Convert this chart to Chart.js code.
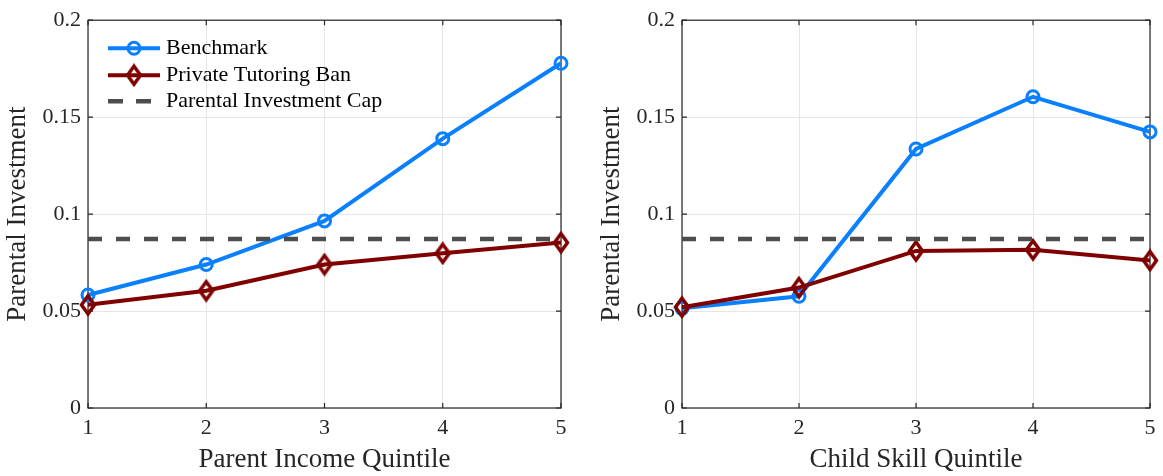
<!DOCTYPE html>
<html>
<head>
<meta charset="utf-8">
<script src="https://cdn.jsdelivr.net/npm/chart.js@4/dist/chart.umd.min.js"></script>
<style>
  html, body { margin: 0; padding: 0; background: #ffffff; }
  #wrap { position: relative; width: 1163px; height: 476px; overflow: hidden; }
  canvas { position: absolute; top: 0; }
  #incomeChart { left: 0; }
  #skillChart { left: 581px; }
</style>
</head>
<body>
<div id="wrap">
  <canvas id="incomeChart" width="581" height="476"></canvas>
  <canvas id="skillChart" width="582" height="476"></canvas>
</div>
<script>
// Quintile categories shared by both panels
const categories = ['1', '2', '3', '4', '5'];
const yTickLabels = ['0', '0.05', '0.1', '0.15', '0.2'];

// Panel 1: by parent income quintile
const incomeBenchmark = [0.0583, 0.0740, 0.0965, 0.1389, 0.1778];
const incomeTutoringBan = [0.0532, 0.0605, 0.0740, 0.0798, 0.0853];

// Panel 2: by child skill quintile
const skillBenchmark = [0.0514, 0.0576, 0.1336, 0.1605, 0.1424];
const skillTutoringBan = [0.0520, 0.0621, 0.0810, 0.0816, 0.0761];

// Horizontal cap level
const investmentCap = 0.0872;

const seriesNames = ['Benchmark', 'Private Tutoring Ban', 'Parental Investment Cap'];

const BLUE = '#0a80ff';
const DARKRED = '#800000';
const GRAY = '#4d4d4d';
const AXIS = '#262626';
const FONT = "'Liberation Serif', 'DejaVu Serif', serif";

// Diamond marker, slightly taller than wide
function diamondMarker(color) {
  const c = document.createElement('canvas');
  c.width = 18; c.height = 24;
  const g = c.getContext('2d');
  g.strokeStyle = color;
  g.lineWidth = 3.5;
  g.lineJoin = 'miter';
  g.beginPath();
  g.moveTo(9, 3); g.lineTo(15.5, 12); g.lineTo(9, 21); g.lineTo(2.5, 12);
  g.closePath();
  g.stroke();
  return c;
}
const diamond = diamondMarker(DARKRED);

// Box around the plot area with inward tick marks on all four sides
const framePlugin = {
  id: 'frame',
  beforeDatasetsDraw(chart) {
    const { ctx, chartArea: a, scales } = chart;
    ctx.save();
    ctx.strokeStyle = AXIS;
    ctx.lineWidth = 1.2;
    ctx.strokeRect(a.left, a.top, a.right - a.left, a.bottom - a.top);
    const tl = 5;
    ctx.beginPath();
    categories.forEach((c, i) => {
      const x = scales.x.getPixelForValue(i);
      ctx.moveTo(x, a.bottom); ctx.lineTo(x, a.bottom - tl);
      ctx.moveTo(x, a.top); ctx.lineTo(x, a.top + tl);
    });
    yTickLabels.forEach((t) => {
      const y = scales.y.getPixelForValue(parseFloat(t));
      ctx.moveTo(a.left, y); ctx.lineTo(a.left + tl, y);
      ctx.moveTo(a.right, y); ctx.lineTo(a.right - tl, y);
    });
    ctx.stroke();
    ctx.restore();
  }
};

// Legend drawn inside the upper-left corner of the plot area
const insetLegendPlugin = {
  id: 'insetLegend',
  afterDatasetsDraw(chart) {
    const { ctx, chartArea: a } = chart;
    const x0 = a.left + 20, x1 = a.left + 72, xt = a.left + 78;
    const rows = [a.top + 28, a.top + 55, a.top + 81];
    ctx.save();
    ctx.font = '22px ' + FONT;
    ctx.textBaseline = 'middle';
    ctx.fillStyle = '#000000';
    const ds = chart.data.datasets;
    // Benchmark
    ctx.strokeStyle = BLUE; ctx.lineWidth = 4; ctx.setLineDash([]);
    ctx.beginPath(); ctx.moveTo(x0, rows[0]); ctx.lineTo(x1, rows[0]); ctx.stroke();
    ctx.lineWidth = 3;
    ctx.beginPath(); ctx.arc((x0 + x1) / 2, rows[0], 6, 0, Math.PI * 2); ctx.stroke();
    ctx.fillText(ds[0].label, xt, rows[0]);
    // Tutoring ban
    ctx.strokeStyle = DARKRED; ctx.lineWidth = 4;
    ctx.beginPath(); ctx.moveTo(x0, rows[1]); ctx.lineTo(x1, rows[1]); ctx.stroke();
    ctx.drawImage(diamond, (x0 + x1) / 2 - diamond.width / 2, rows[1] - diamond.height / 2);
    ctx.fillText(ds[1].label, xt, rows[1]);
    // Cap
    ctx.strokeStyle = GRAY; ctx.lineWidth = 4.5; ctx.setLineDash([15, 13]);
    ctx.beginPath(); ctx.moveTo(x0, rows[2]); ctx.lineTo(x1, rows[2]); ctx.stroke();
    ctx.setLineDash([]);
    ctx.fillText(ds[2].label, xt, rows[2]);
    ctx.restore();
  }
};

function makeChart(canvasId, benchmark, tutoring, xTitle, opts) {
  const capSeries = categories.map(() => investmentCap);
  const plugins = [framePlugin];
  if (opts.legend) plugins.push(insetLegendPlugin);
  return new Chart(document.getElementById(canvasId), {
    type: 'line',
    data: {
      labels: categories,
      datasets: [
        {
          label: seriesNames[0], data: benchmark, order: 3, clip: false,
          borderColor: BLUE, borderWidth: 4, backgroundColor: 'rgba(0,0,0,0)',
          pointStyle: 'circle', pointRadius: 6, pointBorderWidth: 3,
          pointBorderColor: BLUE, pointBackgroundColor: 'rgba(0,0,0,0)',
          tension: 0
        },
        {
          label: seriesNames[1], data: tutoring, order: 2, clip: false,
          borderColor: DARKRED, borderWidth: 4, backgroundColor: 'rgba(0,0,0,0)',
          pointStyle: diamond, pointRadius: 9,
          tension: 0
        },
        {
          label: seriesNames[2], data: capSeries, order: 1, clip: false,
          borderColor: GRAY, borderWidth: 4.5, borderDash: [14, 14],
          borderCapStyle: 'butt', pointRadius: 0, tension: 0
        }
      ]
    },
    options: {
      responsive: false,
      animation: false,
      devicePixelRatio: 1,
      events: [],
      layout: { padding: { top: 19, right: opts.padRight, left: 0, bottom: 0 } },
      plugins: { legend: { display: false }, tooltip: { enabled: false } },
      scales: {
        x: {
          type: 'category',
          offset: false,
          grid: { color: '#e6e6e6', lineWidth: 1, drawTicks: false },
          border: { display: false },
          ticks: { color: AXIS, padding: 7, font: { family: FONT, size: 22 }, maxRotation: 0 },
          title: { display: true, text: xTitle, color: AXIS, font: { family: FONT, size: 27 }, padding: { top: 0, bottom: 0 } },
          afterFit(scale) { scale.height = 68; }
        },
        y: {
          min: 0, max: 0.2,
          grid: { color: '#e6e6e6', lineWidth: 1, drawTicks: false },
          border: { display: false },
          ticks: {
            stepSize: 0.05, color: AXIS, padding: 7,
            font: { family: FONT, size: 22 },
            callback: (v, i) => yTickLabels[i]
          },
          title: { display: true, text: 'Parental Investment', color: AXIS, font: { family: FONT, size: 27 }, padding: { top: opts.yTitlePad, bottom: 0 } },
          afterFit(scale) { scale.width = opts.yWidth; }
        }
      }
    },
    plugins
  });
}

makeChart('incomeChart', incomeBenchmark, incomeTutoringBan, 'Parent Income Quintile',
  { legend: true, padRight: 20, yWidth: 88, yTitlePad: 2 });
makeChart('skillChart', skillBenchmark, skillTutoringBan, 'Child Skill Quintile',
  { legend: false, padRight: 8, yWidth: 101, yTitlePad: 15 });
</script>
</body>
</html>
